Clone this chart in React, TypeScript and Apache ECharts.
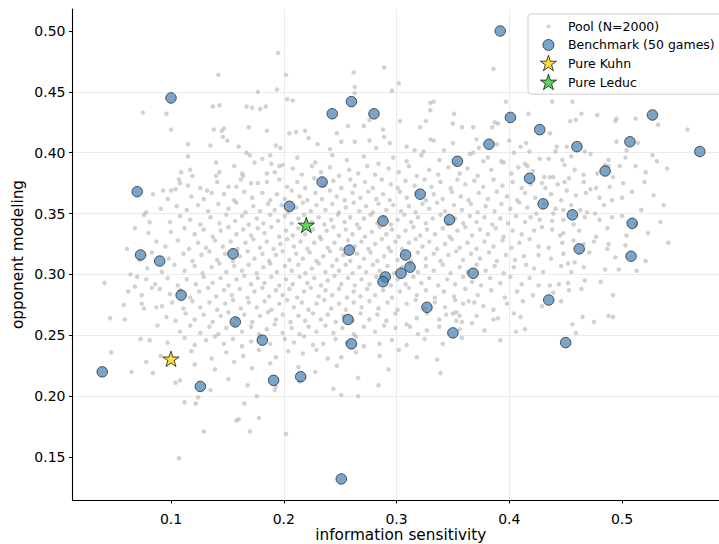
import { useEffect, useRef } from "react";
import * as echarts from "echarts";

// Axis tick values
const xTicks = [0.1, 0.2, 0.3, 0.4, 0.5];
const yTicks = [0.15, 0.2, 0.25, 0.3, 0.35, 0.4, 0.45, 0.5];

// Legend / series names
const seriesNames = ["Pool (N=2000)", "Benchmark (50 games)", "Pure Kuhn", "Pure Leduc"];

// Benchmark games: [information sensitivity, opponent modeling]
const benchmark: [number, number][] = [
  [0.392, 0.5], [0.1, 0.445], [0.26, 0.442], [0.243, 0.432], [0.28, 0.432],
  [0.527, 0.431], [0.401, 0.429], [0.427, 0.419], [0.507, 0.409], [0.382, 0.407],
  [0.46, 0.405], [0.569, 0.401], [0.354, 0.393], [0.485, 0.385], [0.234, 0.376],
  [0.07, 0.368], [0.418, 0.379], [0.321, 0.366], [0.43, 0.358], [0.205, 0.356],
  [0.347, 0.345], [0.288, 0.344], [0.456, 0.349], [0.509, 0.342], [0.258, 0.32],
  [0.462, 0.321], [0.155, 0.317], [0.073, 0.316], [0.308, 0.316], [0.09, 0.311],
  [0.508, 0.315], [0.312, 0.306], [0.304, 0.301], [0.368, 0.301], [0.29, 0.298],
  [0.288, 0.294], [0.109, 0.283], [0.435, 0.279], [0.327, 0.273], [0.157, 0.261],
  [0.257, 0.263], [0.35, 0.252], [0.181, 0.246], [0.45, 0.244], [0.26, 0.243],
  [0.039, 0.22], [0.215, 0.216], [0.191, 0.213], [0.126, 0.208], [0.251, 0.132],
];

const pureKuhn: [number, number][] = [[0.1, 0.23]];
const pureLeduc: [number, number][] = [[0.22, 0.34]];

// Pool games, in thousandths: [x, y]
const poolMilli: [number, number][] = [
  [195,482],[142,464],[202,464],[262,466],[289,470],[386,469],
  [177,450],[194,452],[263,454],[263,449],[302,457],[296,451],[203,444],[208,443],[330,441],[333,442],[397,442],[438,442],[456,442],
  [75,433],[96,432],[137,438],[143,439],[167,438],[172,437],[179,436],[184,438],[330,435],[351,432],[417,432],[464,432],[478,431],
  [303,426],[326,426],[350,424],[387,425],[390,424],[276,427],[454,426],[459,427],[494,426],[495,428],[512,428],[532,423],[385,421],[321,421],[358,421],[368,421],[257,422],[271,422],[169,421],[147,420],
  [100,419],[138,419],[145,418],[185,418],[205,416],[211,417],[219,418],[146,413],[222,412],[247,416],[288,419],[289,413],[330,411],[333,410],[371,411],[400,410],[436,416],[558,419],[276,410],[150,410],[415,408],
  [115,407],[135,406],[160,405],[193,406],[197,404],[230,407],[263,409],[251,409],[282,404],[294,408],[316,402],[324,401],[342,402],[350,408],[404,400],[410,405],[442,405],[451,405],[495,409],[514,408],[418,401],[441,401],[467,401],[504,402],[241,403],[309,405],[373,404],[389,407],
  [115,397],[167,400],[170,398],[181,395],[188,398],[365,399],[368,400],[472,399],[527,398],[212,396],[228,392],[243,398],[256,394],[271,397],[284,391],[297,396],[309,393],[322,398],[338,394],[352,391],[381,396],[395,392],[427,395],[455,397],[488,394],[503,396],[140,392],
  [174,392],[189,391],[196,389],[199,390],[156,389],[377,393],[393,393],[531,393],[435,395],[447,394],[449,390],[414,391],[416,389],[485,390],[488,389],[498,389],[512,389],[109,384],[117,386],[119,381],[140,381],[143,384],[163,383],[164,381],[185,383],[192,384],[478,383],[492,380],[431,380],[436,380],[439,380],
  [208,387],[216,382],[225,389],[233,384],[241,388],[249,381],[258,386],[266,383],[274,389],[281,382],[293,387],[302,384],[311,389],[318,381],[329,386],[337,382],[346,388],[356,383],[363,387],[372,381],[384,386],[402,383],[408,388],[421,385],[458,386],[466,382],[521,384],[540,387],
  [107,378],[108,375],[171,375],[177,375],[185,376],[126,371],[132,369],[93,369],[100,369],[104,370],[151,372],[158,372],[453,379],[466,376],[429,375],[443,374],[449,376],[432,371],[451,369],[472,370],[477,371],[501,375],[520,376],
  [196,378],[203,372],[212,376],[219,371],[227,379],[236,373],[244,377],[251,371],[259,378],[263,373],[272,376],[279,371],[287,378],[295,374],[301,371],[308,377],[316,373],[325,378],[331,372],[339,376],[348,371],[354,378],[361,374],[369,377],[377,372],[386,378],[394,373],[403,376],[411,371],[419,374],[162,378],[141,376],[489,372],[115,373],
  [459,365],[509,368],[480,363],[500,363],[136,367],
  [118,364],[129,362],[147,366],[156,361],[165,368],[172,363],[181,367],[188,361],[194,366],[201,362],[207,369],[214,364],[221,361],[228,367],[234,362],[241,369],[247,364],[254,361],[261,367],[268,363],[275,368],[282,362],[288,366],[294,361],[303,368],[309,363],[318,367],[326,361],[333,366],[341,362],[349,368],[357,364],[364,361],[373,367],[381,362],[389,368],[398,364],[407,361],[414,367],[423,363],[437,366],[446,361],[468,367],[491,361],[528,365],[97,362],[84,366],
  [105,356],[114,353],[484,357],[441,354],[448,353],[463,353],[424,350],[439,350],[469,351],[476,350],[500,348],
  [124,357],[133,352],[142,358],[151,354],[158,359],[166,351],[173,356],[179,352],[186,358],[192,353],[198,357],[204,351],[211,355],[217,359],[224,352],[229,357],[237,353],[243,358],[249,351],[255,355],[262,359],[267,352],[273,356],[279,351],[284,358],[291,353],[297,357],[304,352],[311,356],[317,351],[323,358],[329,354],[336,359],[343,352],[351,357],[358,353],[366,358],[372,351],[379,356],[387,352],[393,358],[401,354],[409,359],[416,355],[431,358],[455,357],[517,353],[537,357],[91,354],[78,351],
  [76,349],[81,343],[99,343],[117,345],[427,345],[438,344],[448,345],[467,347],[480,345],[534,343],
  [108,348],[126,341],[135,347],[143,342],[149,349],[157,344],[163,348],[169,341],[176,346],[182,342],[188,349],[195,344],[201,348],[207,342],[213,346],[218,349],[225,343],[231,347],[236,341],[242,345],[248,349],[254,343],[259,347],[265,341],[271,346],[277,349],[283,342],[289,347],[295,341],[301,345],[307,349],[313,343],[319,347],[326,342],[332,346],[339,349],[345,341],[352,346],[359,342],[365,348],[371,343],[378,347],[385,341],[392,346],[399,342],[406,348],[414,343],[419,347],[457,341],[491,347],[512,341],
  [80,334],[87,327],[100,335],[422,336],[438,337],[445,332],[448,334],[477,331],[504,332],
  [112,338],[121,333],[129,337],[137,331],[144,336],[151,339],[158,333],[164,337],[171,332],[177,338],[183,334],[189,339],[196,331],[202,336],[208,332],[213,338],[219,333],[226,337],[232,331],[238,336],[244,339],[249,332],[255,337],[261,333],[267,338],[272,331],[278,335],[285,339],[291,333],[296,337],[302,331],[308,336],[315,339],[321,332],[327,337],[334,333],[341,338],[347,331],[354,336],[361,339],[367,332],[374,337],[381,333],[388,338],[395,331],[403,336],[411,333],[429,339],[462,336],[487,338],[523,334],[68,338],
  [435,322],[487,321],[466,325],[475,327],[488,325],[447,326],
  [95,323],[106,328],[116,321],[124,326],[131,322],[139,328],[146,323],[153,327],[159,321],[166,326],[173,329],[179,322],[185,327],[191,321],[197,325],[203,329],[209,323],[215,327],[221,321],[227,326],[233,329],[239,322],[245,326],[251,321],[257,328],[263,323],[269,327],[275,321],[281,325],[287,329],[293,322],[299,327],[305,321],[311,326],[317,329],[323,323],[329,327],[336,321],[343,325],[349,329],[356,322],[363,326],[371,321],[378,327],[386,323],[394,328],[402,322],[409,326],[418,329],[426,323],[457,328],[503,324],[541,326],[61,321],
  [413,315],[426,316],[448,317],[458,310],
  [83,318],[98,313],[111,317],[119,311],[127,316],[134,319],[141,312],[148,317],[155,311],[161,315],[168,319],[174,313],[181,317],[187,311],[193,316],[199,319],[205,312],[211,317],[217,313],[223,318],[229,311],[235,315],[241,319],[247,312],[253,316],[259,311],[265,317],[271,313],[277,318],[283,311],[289,315],[295,319],[301,312],[307,316],[313,311],[319,318],[326,313],[333,317],[339,311],[346,316],[353,319],[359,312],[366,317],[374,313],[382,318],[389,311],[397,316],[405,312],[437,313],[471,318],[494,314],[521,311],[72,312],
  [415,308],[446,307],[452,309],[485,304],[497,304],[430,302],[455,302],
  [64,300],[79,305],[92,302],[103,308],[112,303],[121,307],[128,301],[136,306],[143,309],[149,302],[156,307],[163,303],[169,308],[176,301],[182,306],[188,309],[194,302],[201,307],[207,303],[213,308],[219,301],[225,305],[231,309],[237,302],[243,307],[249,303],[255,308],[261,301],[267,306],[273,302],[279,308],[285,303],[292,307],[298,301],[305,306],[312,309],[319,302],[326,307],[333,303],[341,308],[348,301],[356,306],[363,302],[371,308],[379,303],[387,307],[395,301],[404,306],[422,305],[466,306],[513,303],
  [70,298],[68,290],[467,295],[426,291],[436,291],[444,292],[452,293],
  [41,293],[78,296],[86,292],[97,297],[106,291],[114,296],[122,292],[129,298],[137,293],[144,297],[151,291],[158,296],[165,299],[171,292],[177,297],[183,293],[189,298],[196,291],[202,296],[208,292],[214,298],[221,293],[227,297],[233,291],[239,295],[245,299],[251,292],[257,297],[263,291],[269,296],[276,292],[282,298],[295,291],[301,296],[308,292],[315,298],[322,293],[329,297],[337,291],[345,296],[352,292],[359,298],[367,294],[375,291],[383,297],[392,293],[401,298],[411,292],[418,297],[481,294],
  [90,288],[464,288],[453,287],[492,283],
  [62,286],[74,283],[83,289],[99,284],[108,287],[117,281],[125,286],[133,289],[140,282],[147,287],[154,283],[161,288],[168,281],[174,286],[181,289],[187,282],[193,287],[199,283],[205,288],[212,281],[218,286],[224,289],[231,282],[237,287],[243,283],[249,288],[256,281],[262,286],[268,282],[274,288],[281,283],[288,287],[296,281],[303,286],[311,289],[318,283],[326,287],[334,281],[342,286],[351,282],[361,288],[372,283],[384,287],[396,281],[407,286],[421,283],[439,285],
  [359,276],[364,278],[369,277],[377,274],[412,278],[58,275],[74,276],[76,272],[87,273],[92,274],
  [101,277],[111,272],[119,278],[126,273],[134,277],[141,271],[148,276],[155,279],[162,272],[169,277],[176,273],[183,278],[189,271],[196,276],[203,279],[209,273],[216,277],[222,271],[229,276],[236,279],[242,272],[249,276],[255,271],[262,277],[269,273],[276,278],[284,272],[292,277],[301,271],[309,276],[317,279],[325,272],[334,277],[343,273],[352,279],[386,271],[398,276],[429,274],[446,278],
  [353,269],[356,266],[353,262],[358,261],[371,266],[386,263],[390,264],[410,265],[465,265],[488,266],[492,265],[475,261],[46,264],[59,263],[96,265],[350,268],[367,260],[404,268],
  [104,262],[113,268],[121,263],[129,267],[137,261],[144,266],[151,269],[158,263],[165,267],[172,261],[179,266],[186,269],[193,263],[199,267],[206,261],[213,266],[219,262],[226,268],[233,263],[239,267],[246,261],[253,266],[261,262],[268,268],[276,263],[283,267],[291,262],[299,268],[318,264],[327,268],[338,263],[344,267],
  [88,258],[309,259],[312,257],[327,254],[299,256],[356,255],[358,248],[406,253],[414,255],[456,259],[459,252],
  [108,253],[117,258],[126,252],[134,257],[142,251],[149,256],[156,259],[163,253],[171,257],[178,251],[185,255],[192,259],[199,252],[207,256],[214,251],[222,257],[229,253],[237,258],[244,252],[252,256],[262,251],[271,257],[281,253],[289,258],[319,251],[338,257],[378,254],
  [73,247],[81,246],[201,247],[285,243],[235,243],[271,241],
  [97,244],[112,248],[121,242],[131,246],[139,249],[147,243],[155,247],[163,241],[171,245],[179,249],[188,243],[209,244],[218,249],[226,242],[246,247],[256,244],[264,249],[296,246],[309,242],[325,247],[341,243],[392,246],
  [47,236],[217,235],[229,238],[251,232],[285,233],[336,230],
  [91,233],[118,237],[136,231],[149,236],[164,233],[178,238],[193,232],[204,237],[239,231],[264,236],[302,238],[318,232],
  [78,228],[65,220],[84,219],[228,220],[339,219],[213,224],
  [121,226],[139,222],[156,228],[172,223],[188,227],[247,225],[293,222],
  [104,211],[108,213],[135,205],[192,205],[193,208],[244,206],[251,201],[266,215],[266,200],[151,214],[168,209],[214,212],[284,209],
  [112,195],[122,194],[124,199],[129,171],[107,149],[158,180],[160,181],[165,194],[176,200],[178,182],[170,171],[202,169],
];

const POOL_ICON = "path://M0,0M18,18M7,9A2,2,0,1,1,11,9A2,2,0,1,1,7,9Z";
const BENCH_ICON = "path://M0,0M18,18M3.5,9A5.5,5.5,0,1,1,14.5,9A5.5,5.5,0,1,1,3.5,9Z";
const STAR =
  "path://M0,0M18,18M9,0.5L10.91,6.37L17.08,6.37L12.09,10L14,15.88L9,12.25L4,15.88L5.91,10L0.92,6.37L7.09,6.37Z";

const FONT = "DejaVu Sans";

export default function App() {
  const ref = useRef<HTMLDivElement>(null);

  useEffect(() => {
    if (!ref.current) return;
    const chart = echarts.init(ref.current, undefined, { renderer: "svg" });
    const pool = poolMilli.map(([x, y]) => [x / 1000, y / 1000]);

    const axisCommon = {
      type: "value" as const,
      axisLine: { show: true, onZero: false, lineStyle: { color: "#000", width: 1.1 } },
      splitLine: {
        show: true,
        showMinLine: false,
        showMaxLine: false,
        lineStyle: { color: "#ebebeb", width: 1 },
      },
      nameMoveOverlap: false,
    };

    chart.setOption({
      animation: false,
      backgroundColor: "#ffffff",
      grid: {
        left: 72.5,
        right: 0,
        top: 9,
        bottom: 44,
        containLabel: false,
        outerBoundsMode: "none",
      },
      legend: {
        orient: "vertical",
        left: 528,
        top: 14,
        padding: [3.5, 10, 2, 11],
        itemWidth: 29,
        itemHeight: 18,
        itemGap: 0,
        selectedMode: false,
        backgroundColor: "rgba(255,255,255,0.8)",
        borderColor: "#cccccc",
        borderWidth: 1,
        borderRadius: 3,
        textStyle: { fontFamily: FONT, fontSize: 12.5, color: "#000", lineHeight: 14 },
        data: [
          { name: seriesNames[0], icon: POOL_ICON, itemStyle: { borderWidth: 0, opacity: 0.6 } },
          { name: seriesNames[1], icon: BENCH_ICON, itemStyle: { borderWidth: 0.9, borderColor: "#1a1a1a" } },
          { name: seriesNames[2], icon: STAR, itemStyle: { borderWidth: 0.9, borderColor: "#000" } },
          { name: seriesNames[3], icon: STAR, itemStyle: { borderWidth: 0.9, borderColor: "#000" } },
        ],
      },
      xAxis: {
        ...axisCommon,
        min: 0.01264,
        max: 0.586,
        splitNumber: 5,
        axisTick: {
          show: true,
          inside: false,
          length: 3.5,
          customValues: xTicks,
          lineStyle: { color: "#000", width: 1 },
        },
        axisLabel: {
          customValues: xTicks,
          formatter: (v: number) => v.toFixed(1),
          fontFamily: FONT,
          fontSize: 14,
          color: "#000",
          margin: 12,
          lineHeight: 14,
        },
        name: "information sensitivity",
        nameLocation: "middle",
        nameGap: 27,
        nameTextStyle: {
          fontFamily: FONT,
          fontSize: 15.3,
          color: "#000",
          lineHeight: 15,
          padding: [0, 0, 0, 10],
        },
      },
      yAxis: {
        ...axisCommon,
        min: 0.1147,
        max: 0.5181,
        splitNumber: 8,
        axisTick: {
          show: true,
          inside: false,
          length: 3.5,
          customValues: yTicks,
          lineStyle: { color: "#000", width: 1 },
        },
        axisLabel: {
          customValues: yTicks,
          formatter: (v: number) => v.toFixed(2),
          fontFamily: FONT,
          fontSize: 14,
          color: "#000",
          margin: 7,
        },
        name: "opponent modeling",
        nameLocation: "middle",
        nameRotate: 90,
        nameGap: 46,
        nameTextStyle: { fontFamily: FONT, fontSize: 15.3, color: "#000", lineHeight: 18 },
      },
      series: [
        {
          name: seriesNames[0],
          type: "scatter",
          data: pool,
          symbol: "circle",
          symbolSize: 4.5,
          silent: true,
          itemStyle: { color: "#b3b3b3", opacity: 0.6, borderWidth: 0 },
          z: 1,
        },
        {
          name: seriesNames[1],
          type: "scatter",
          data: benchmark,
          symbol: "circle",
          symbolSize: 10.5,
          itemStyle: {
            color: "rgba(70,130,180,0.9)",
            borderColor: "#1a1a1a",
            borderWidth: 0.9,
          },
          z: 2,
        },
        {
          name: seriesNames[2],
          type: "scatter",
          data: pureKuhn,
          symbol: STAR,
          symbolSize: 18,
          symbolKeepAspect: true,
          itemStyle: { color: "#FFD700", borderColor: "#000", borderWidth: 0.9 },
          z: 3,
        },
        {
          name: seriesNames[3],
          type: "scatter",
          data: pureLeduc,
          symbol: STAR,
          symbolSize: 18,
          symbolKeepAspect: true,
          itemStyle: { color: "#32CD32", borderColor: "#000", borderWidth: 0.9 },
          z: 3,
        },
      ],
    });

    return () => {
      chart.dispose();
    };
  }, []);

  return (
    <div
      ref={ref}
      style={{
        position: "fixed",
        left: 0,
        top: 0,
        width: 719,
        height: 544,
        background: "#ffffff",
      }}
    />
  );
}
